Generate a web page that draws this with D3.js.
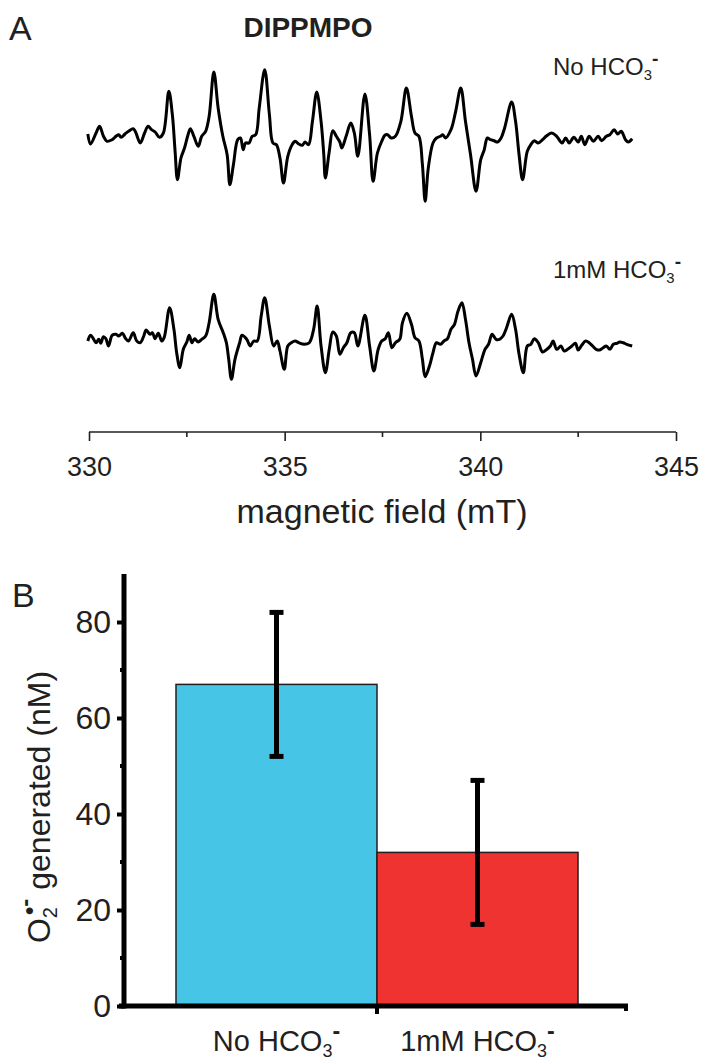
<!DOCTYPE html>
<html><head><meta charset="utf-8">
<script src="https://cdn.jsdelivr.net/npm/d3@7/dist/d3.min.js"></script>
<style>
body{margin:0;background:#fff;}
svg{display:block;font-family:"Liberation Sans",Arial,Helvetica,sans-serif;}
</style></head>
<body>
<script>
// ---- Panel A data: EPR spectra (field in mT, signal in a.u.) ----
const field1 = [329.97,330.04,330.18,330.27,330.37,330.46,330.59,330.69,330.76,330.82,330.92,331.01,331.13,331.19,331.31,331.42,331.51,331.60,331.69,331.80,331.90,332.04,332.13,332.20,332.26,332.35,332.44,332.52,332.59,332.68,332.79,332.88,332.98,333.07,333.19,333.30,333.42,333.53,333.60,333.69,333.80,333.87,333.94,334.00,334.09,334.17,334.26,334.35,334.49,334.61,334.70,334.79,334.88,334.97,335.08,335.19,335.27,335.36,335.45,335.52,335.61,335.71,335.82,335.93,336.00,336.04,336.14,336.23,336.32,336.41,336.46,336.57,336.69,336.78,336.87,337.05,337.17,337.26,337.37,337.48,337.56,337.63,337.72,337.83,337.97,338.11,338.24,338.33,338.43,338.52,338.59,338.67,338.79,338.88,338.98,339.04,339.11,339.25,339.37,339.50,339.62,339.75,339.89,340.01,340.10,340.18,340.26,340.35,340.44,340.53,340.62,340.80,340.90,340.99,341.08,341.20,341.29,341.38,341.48,341.59,341.68,341.82,341.95,342.09,342.18,342.27,342.39,342.50,342.58,342.67,342.78,342.89,343.01,343.10,343.22,343.31,343.42,343.51,343.60,343.71,343.78,343.88];
const signal1 = [4,-6,5,11.7,1.7,-3.3,-1.7,1.7,3.3,0.7,4,6.7,9.3,6,-5,5,11.7,8.3,6,0.7,5,46.7,23.3,-13.3,-41.7,-20,-10,1.7,9.3,1.7,-8.3,1.7,6.7,21.7,66,30,1.7,-16.7,-46.7,-26.7,-1.7,0,-11.7,-5,-5,1.7,3.3,30,68.3,23.3,-5,-6.7,-20,-45,-18.3,-6.7,-3.3,-6,-7.3,-4,-6.7,16.7,46,16.7,-16.7,-40,-13.3,7.3,1.7,-4,-10,1.7,15,5,-18.3,44,3.3,-43.3,-15,-3.3,2.7,3.3,0,1.7,16.7,50,21.7,5,1.7,-26.7,-63.3,-30,-5,0,1.7,3.3,0,8.3,26.7,50,16.7,-16.7,-53.3,-21.7,-11.7,0,-1.7,-2.7,-4,0,10,36,16.7,-16.7,-41.7,-13.3,-6.7,-2.7,-5,-1.7,1.7,5,1.7,-5,0,-5,0.7,-4,1.7,-6.7,1.7,-3.3,1.7,-2.7,1.7,3.3,8.3,4,6.7,-1.7,-4,-0.7];

const field2 = [329.97,330.04,330.12,330.18,330.25,330.30,330.37,330.43,330.50,330.59,330.69,330.76,330.85,330.94,331.01,331.13,331.22,331.31,331.40,331.46,331.56,331.62,331.69,331.77,331.86,331.92,332.06,332.17,332.24,332.32,332.41,332.50,332.56,332.63,332.70,332.79,332.88,332.98,333.07,333.19,333.30,333.43,333.51,333.57,333.64,333.73,333.85,333.91,334.03,334.12,334.21,334.30,334.40,334.49,334.61,334.72,334.81,334.88,334.99,335.08,335.17,335.27,335.36,335.50,335.63,335.74,335.83,335.93,336.04,336.14,336.23,336.32,336.41,336.50,336.59,336.69,336.78,336.87,337.05,337.17,337.28,337.39,337.48,337.57,337.65,337.74,337.83,337.94,338.01,338.12,338.24,338.33,338.43,338.52,338.59,338.70,338.79,338.88,338.98,339.07,339.16,339.25,339.34,339.43,339.53,339.62,339.71,339.80,339.89,340.01,340.12,340.21,340.30,340.40,340.49,340.58,340.67,340.80,340.90,340.99,341.10,341.20,341.29,341.38,341.48,341.59,341.68,341.79,341.86,341.95,342.06,342.14,342.23,342.34,342.43,342.50,342.59,342.69,342.78,342.87,342.96,343.05,343.14,343.22,343.31,343.40,343.49,343.56,343.65,343.74,343.88];
const signal2 = [0,5.7,1.7,-1.7,1.7,-2.3,4.3,2.3,-5,5.7,6.7,5,7.7,2.3,0,8.3,0,-1.7,5,11,6.7,8.3,2.3,7.7,0,3.3,33.3,11.7,-11.7,-26.7,-8.3,-1,5.7,-1.7,2.3,-1,1.7,5,18.3,46.7,21.7,8.3,-1.7,-18.3,-38.3,-18.3,-1.7,5.7,1.7,-5,0,0,25,43.3,15,-5,0,-10,-28.3,-5,-1.7,0,-1.7,-3.3,-1.7,11.7,35,-5,-31.7,-8.3,9,5,-13.3,-6.7,-1.7,8.3,8.3,-5,25.7,-5,-30,-8.3,0,2.3,8.3,-6.7,-1.7,1.7,18.3,27.7,16.7,3.3,0,-18.3,-35.7,-25,-11.7,-1.7,-3.3,0,2.3,11.7,16.7,30,38.3,21.7,-1.7,-18.3,-35,-21.7,-8.3,-3.3,6.7,1.7,1.7,5,13.3,26.7,11.7,-13.3,-31.7,-5,-3.3,2.3,-1.7,-11,-9,-5,0,-8.3,-5,-10,-8.3,-5,-2.3,-9,-4.3,0,-1.7,-5,-8.3,-9,-6.7,-5,-8.3,-3.3,-2.3,-1,-1.7,-3.3,-5];

const spectraLabels = ["No HCO", "1mM HCO"];
const fieldTicks = [330, 335, 340, 345];
const fieldMinorTicks = [332.5, 337.5, 342.5];

// ---- Panel B data ----
const categories = ["No HCO", "1mM HCO"];
const means = [67, 32];
const errors = [15, 15];
const yTicksB = [0, 20, 40, 60, 80];
const yMinorB = [10, 30, 50, 70];
const barColors = ["#46c5e6", "#ee3330"];

const W = 720, H = 1063;
const svg = d3.select("body").append("svg").attr("width", W).attr("height", H);
const ink = "#231f20";

// ===== Panel A =====
svg.append("text").attr("x", 9).attr("y", 40).attr("font-size", 34).attr("fill", ink).text("A");
svg.append("text").attr("x", 308).attr("y", 37).attr("text-anchor", "middle")
  .attr("font-size", 28).attr("font-weight", "bold").attr("fill", ink).text("DIPPMPO");

const x = d3.scaleLinear().domain([330, 345]).range([89, 676]);
const y1 = d3.scaleLinear().domain([-70, 70]).range([208, 68]);
const y2 = d3.scaleLinear().domain([-50, 50]).range([391, 291]);

const line1 = d3.line().x((d, i) => x(field1[i])).y(d => y1(d)).curve(d3.curveCatmullRom.alpha(0.5));
const line2 = d3.line().x((d, i) => x(field2[i])).y(d => y2(d)).curve(d3.curveCatmullRom.alpha(0.5));
svg.append("path").attr("d", line1(signal1)).attr("fill", "none").attr("stroke", "#000")
  .attr("stroke-width", 3).attr("stroke-linejoin", "round");
svg.append("path").attr("d", line2(signal2)).attr("fill", "none").attr("stroke", "#000")
  .attr("stroke-width", 3).attr("stroke-linejoin", "round");

function hco(sel, main, fs) {
  sel.append("tspan").text(main);
  sel.append("tspan").attr("font-size", fs * 0.62).attr("dy", fs * 0.2).text("3");
  sel.append("tspan").attr("font-size", fs * 0.8).attr("dy", -fs * 0.6).attr("font-weight", "bold").text("-");
}
const specLabelY = [75, 278];
spectraLabels.forEach((t, i) => {
  const tx = svg.append("text").attr("x", 553).attr("y", specLabelY[i]).attr("font-size", 24).attr("fill", ink);
  hco(tx, t, 24);
});

const axA = svg.append("g").attr("transform", "translate(0,432)");
axA.call(d3.axisBottom(x).tickValues(fieldTicks).tickSize(9).tickPadding(16).tickFormat(d3.format("d")));
axA.selectAll(".tick line").attr("stroke", ink).attr("stroke-width", 1.6);
axA.select(".domain").attr("stroke", ink).attr("stroke-width", 1.6).attr("d", `M${x(330)},0H${x(345)}`);
axA.selectAll(".tick text").attr("font-size", 27).attr("fill", ink).attr("font-family", "Liberation Sans, Arial, sans-serif");
axA.selectAll(".minor").data(fieldMinorTicks).enter().append("line")
  .attr("x1", d => x(d)).attr("x2", d => x(d)).attr("y1", 0).attr("y2", 5)
  .attr("stroke", ink).attr("stroke-width", 1.6);
svg.append("text").attr("x", 382).attr("y", 523).attr("text-anchor", "middle")
  .attr("font-size", 34).attr("fill", ink).text("magnetic field (mT)");

// ===== Panel B =====
svg.append("text").attr("x", 12).attr("y", 607).attr("font-size", 34).attr("fill", ink).text("B");

const yB = d3.scaleLinear().domain([0, 90]).range([1006, 574]);
const xB = d3.scaleBand().domain(categories).range([176, 578]).padding(0);

svg.selectAll(".bar").data(means).enter().append("rect")
  .attr("x", (d, i) => xB(categories[i])).attr("width", xB.bandwidth())
  .attr("y", d => yB(d)).attr("height", d => yB(0) - yB(d))
  .attr("fill", (d, i) => barColors[i]).attr("stroke", ink).attr("stroke-width", 1.5);

// error bars
means.forEach((m, i) => {
  const cx = xB(categories[i]) + xB.bandwidth() / 2;
  const g = svg.append("g").attr("stroke", "#000").attr("stroke-width", 5);
  g.append("line").attr("x1", cx).attr("x2", cx).attr("y1", yB(m + errors[i])).attr("y2", yB(m - errors[i]));
  g.append("line").attr("x1", cx - 7).attr("x2", cx + 7).attr("y1", yB(m + errors[i])).attr("y2", yB(m + errors[i]));
  g.append("line").attr("x1", cx - 7).attr("x2", cx + 7).attr("y1", yB(m - errors[i])).attr("y2", yB(m - errors[i]));
});

// y axis
const axB = svg.append("g").attr("transform", "translate(124,0)");
axB.call(d3.axisLeft(yB).tickValues(yTicksB).tickSize(7).tickPadding(6));
axB.select(".domain").attr("stroke", "#000").attr("stroke-width", 5).attr("d", `M0,${yB(90)}V${yB(0) + 2.5}`);
axB.selectAll(".tick line").attr("stroke", "#000").attr("stroke-width", 4);
axB.selectAll(".tick text").attr("font-size", 32).attr("fill", ink).attr("font-family", "Liberation Sans, Arial, sans-serif");
axB.selectAll(".minor").data(yMinorB).enter().append("line")
  .attr("x1", -4).attr("x2", 0).attr("y1", d => yB(d)).attr("y2", d => yB(d))
  .attr("stroke", "#000").attr("stroke-width", 4);

// x axis
const xAxisG = svg.append("g").attr("stroke", "#000");
xAxisG.append("line").attr("x1", 119).attr("x2", 628).attr("y1", yB(0)).attr("y2", yB(0)).attr("stroke-width", 5);
xAxisG.append("line").attr("x1", 377).attr("x2", 377).attr("y1", yB(0)).attr("y2", yB(0) + 8).attr("stroke-width", 4);
xAxisG.append("line").attr("x1", 626).attr("x2", 626).attr("y1", yB(0)).attr("y2", yB(0) + 5).attr("stroke-width", 4);

categories.forEach((c, i) => {
  const tx = svg.append("text").attr("x", xB(c) + xB.bandwidth() / 2).attr("y", 1051)
    .attr("text-anchor", "middle").attr("font-size", 29).attr("fill", ink);
  hco(tx, c, 29);
});

// y label
const yl = svg.append("text").attr("transform", "translate(50,807) rotate(-90)")
  .attr("text-anchor", "middle").attr("font-size", 32).attr("fill", ink);
yl.append("tspan").text("O");
yl.append("tspan").attr("font-size", 20).attr("dy", 7).text("2");
yl.append("tspan").attr("font-size", 24).attr("dy", -20).attr("dx", -8).attr("font-weight", "bold").text("•");
yl.append("tspan").attr("font-size", 24).attr("dy", -4).attr("font-weight", "bold").text("-");
yl.append("tspan").attr("dy", 17).text(" generated (nM)");
</script>
</body></html>
